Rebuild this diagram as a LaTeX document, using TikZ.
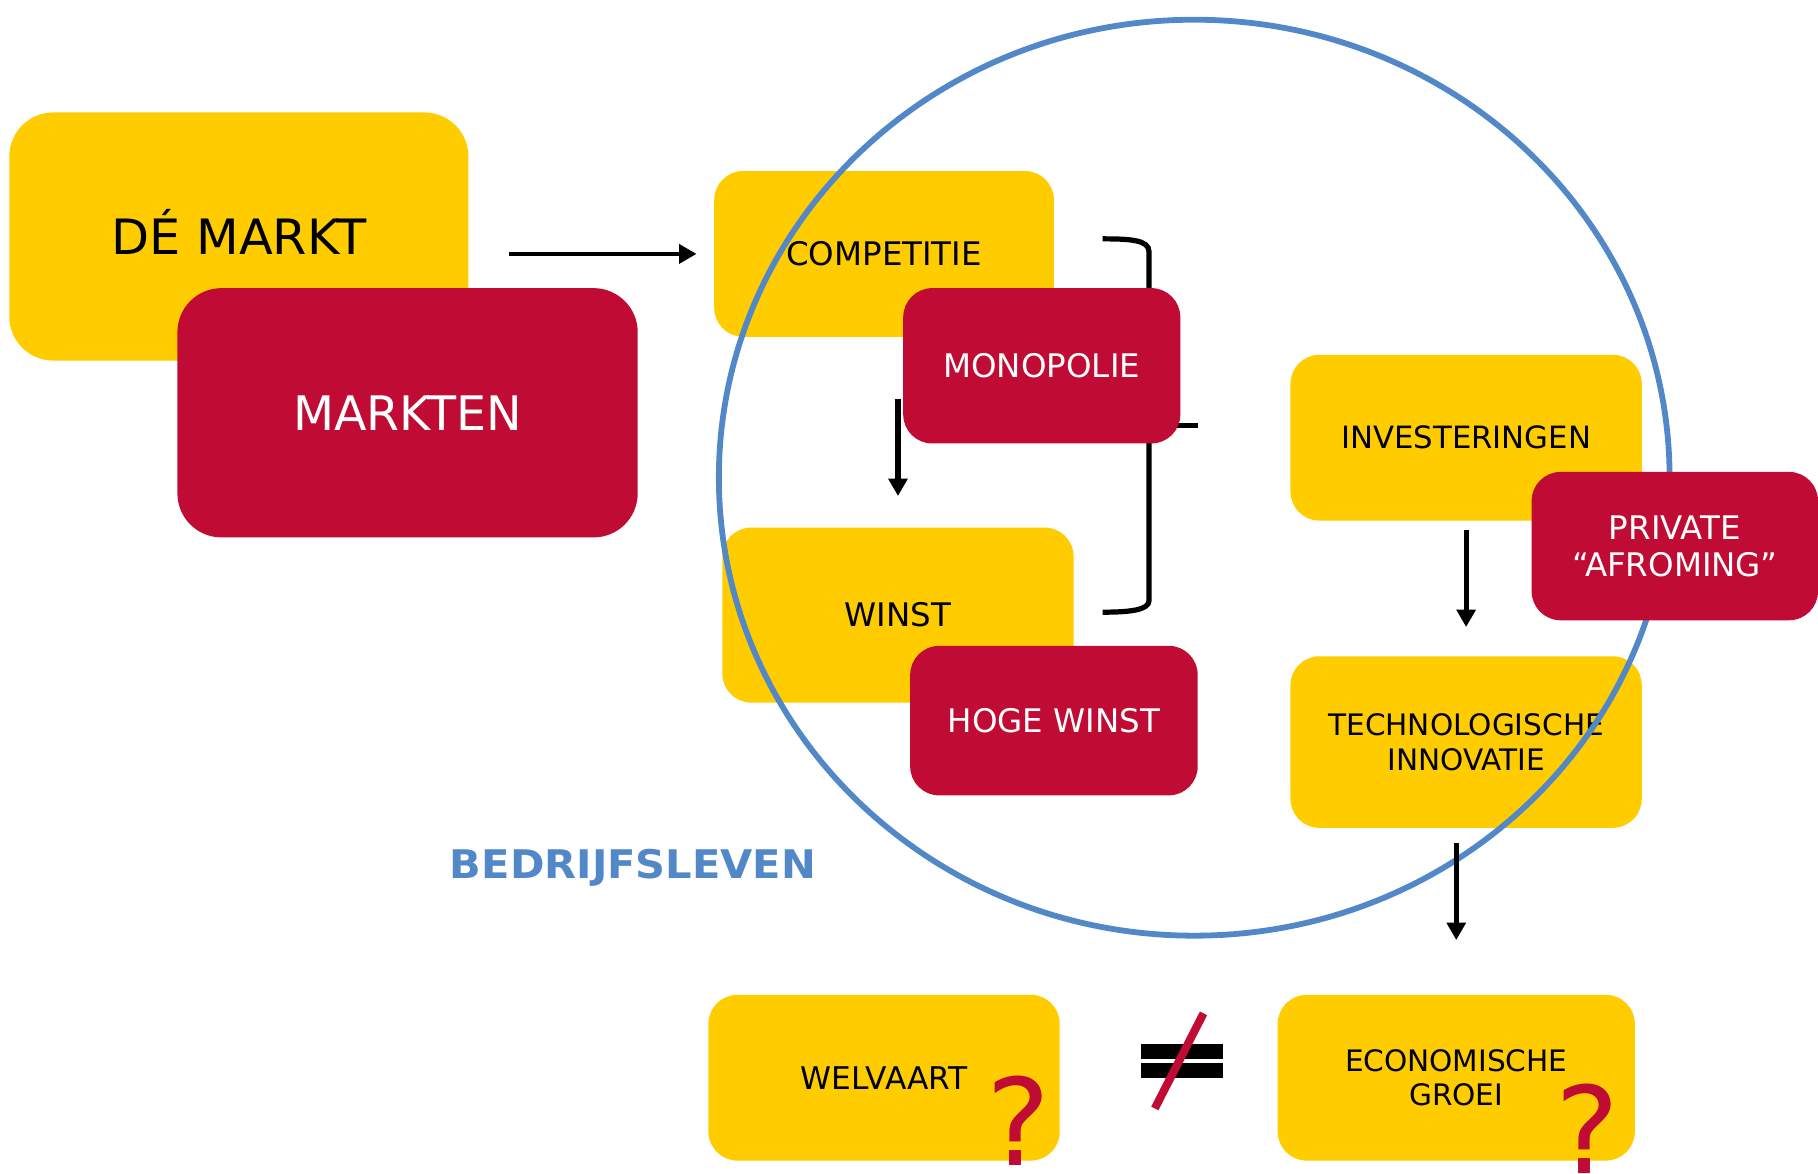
\documentclass[tikz,border=0pt]{standalone}
\usepackage{fontspec}
\setmainfont{DejaVu Sans}
\usetikzlibrary{arrows.meta}
\definecolor{myyellow}{RGB}{255,204,0}
\definecolor{mycrimson}{RGB}{192,12,53}
\definecolor{myblue}{RGB}{82,136,199}
\begin{document}
\begin{tikzpicture}[x=1pt,y=-1pt,
  ybox/.style={fill=myyellow, rounded corners=25pt, inner sep=0pt, text=black, align=center, font=\fontsize{28}{32}\selectfont},
  cbox/.style={fill=mycrimson, rounded corners=25pt, inner sep=0pt, text=white, align=center, font=\fontsize{28}{32}\selectfont},
  bigbox/.style={rounded corners=38pt, font=\fontsize{42}{48}\selectfont},
  arr/.style={line width=4.5pt, -{Triangle[width=16pt,length=15pt]}},
  brk/.style={line width=4.5pt},
  ring/.style={draw=myblue, line width=5pt},
  qmark/.style={text=mycrimson, inner sep=0pt, font=\fontsize{104}{110}\selectfont}]
\useasboundingbox (0,0) rectangle (1568,1012);
\fill[white] (0,0) rectangle (1568,1012);
% yellow boxes
\node[ybox, bigbox, minimum width=396pt, minimum height=214pt] (demarkt) at (206,204) {\scalebox{1.015}[1]{\smash{DÉ} MARKT}};
\node[ybox, minimum width=293pt, minimum height=143pt] (competitie) at (762.5,219) {COMPETITIE};
\node[ybox, minimum width=303pt, minimum height=151pt] (winst) at (774.5,530.5) {WINST};
\node[ybox, minimum width=303pt, minimum height=143pt, font=\fontsize{26.5}{30}\selectfont] (invest) at (1264.5,377.5) {INVESTERINGEN};
\node[ybox, minimum width=303pt, minimum height=148pt, font=\fontsize{25.5}{30}\selectfont] (tech) at (1264.5,640) {TECHNOLOGISCHE\\INNOVATIE};
\node[ybox, minimum width=303pt, minimum height=143pt, font=\fontsize{27}{31}\selectfont] (welvaart) at (762.5,929.5) {WELVAART};
\node[ybox, minimum width=308pt, minimum height=143pt, font=\fontsize{25.5}{30}\selectfont] (econ) at (1256,929.5) {ECONOMISCHE\\GROEI};
% big crimson box
\node[cbox, bigbox, font=\fontsize{41}{46}\selectfont, minimum width=397pt, minimum height=215pt] (markten) at (351.5,356) {MARKTEN};
% bracket
\draw[brk] (951,206) .. controls (975,206) and (991,207) .. (991,217) -- (991,518) .. controls (991,526) and (975,528) .. (951,528);
\draw[brk] (991,367) -- (1033,367);
% circle
\draw[ring] (1030,412) ellipse [x radius=410, y radius=395];
% crimson boxes
\node[cbox, minimum width=239pt, minimum height=134pt] (monopolie) at (898.5,315.5) {MONOPOLIE};
\node[cbox, minimum width=248pt, minimum height=129pt] (hogewinst) at (909,621.5) {HOGE WINST};
\node[cbox, minimum width=247pt, minimum height=128pt] (private) at (1444.5,471) {PRIVATE\\“AFROMING”};
% arrows
\draw[arr, line width=4pt, shorten <=35pt, shorten >=15pt] (demarkt.east |- competitie.west) -- (competitie.west);
\draw[arr, shorten <=53pt, shorten >=27pt] (winst.north |- competitie.south) -- (winst.north);
\draw[arr, shorten <=8pt, shorten >=25pt] (invest.south) -- (tech.north);
\draw[arr, shorten <=13pt, shorten >=47pt] (econ.north |- tech.south) -- (econ.north);
% label
\node[anchor=base, inner sep=0pt, text=myblue, font=\bfseries\fontsize{34}{38}\selectfont] (bedrijf) at (546,758) {\scalebox{1.055}[1]{BEDRIJFSLEVEN}};
% not equal sign
\fill (984,900) rectangle (1055,913);
\fill (984,917) rectangle (1055,930);
\draw[mycrimson, line width=7pt] (1038,874) -- (996,956);
% question marks
\node[qmark, anchor=base] (q1) at (878,1005) {?};
\node[qmark, anchor=base] (q2) at (1369,1012) {?};
\end{tikzpicture}
\end{document}
